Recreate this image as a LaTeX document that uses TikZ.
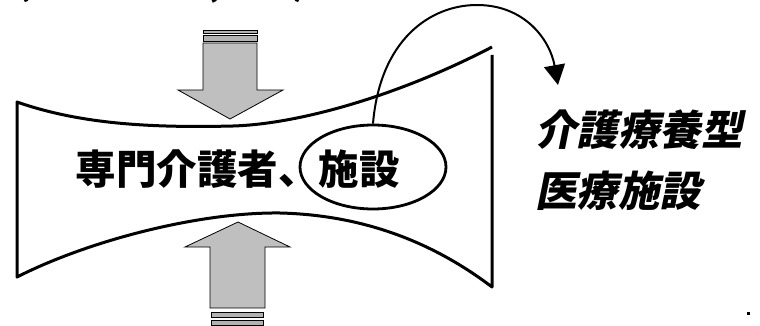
\documentclass[tikz,border=0pt]{standalone}
\usepackage{fontspec}
\newfontfamily\cjk{Noto Sans CJK JP}
\newfontfamily\cjksl{Noto Sans CJK JP}[FakeSlant=0.2]
\usetikzlibrary{shapes.geometric,arrows.meta}
\tikzset{
  bigarrow/.style={fill=gray!50, draw=black, line width=0.8pt},
  stripe/.style={fill=gray!60, draw=black, line width=0.8pt},
  banner/.style={line width=3pt, line join=round},
  maintext/.style={font=\cjk\bfseries\fontsize{40.5}{44}\selectfont, inner sep=0pt, anchor=base},
  sidetext/.style={font=\cjksl\bfseries\fontsize{41.5}{44}\selectfont, inner sep=0pt, anchor=base west},
  toptext/.style={font=\cjk\bfseries\fontsize{30}{34}\selectfont, inner sep=0pt, anchor=base west},
}
\begin{document}
\begin{tikzpicture}[x=1pt,y=-1pt]
\useasboundingbox (0,0) rectangle (760,326);
\begin{scope}
\clip (0,0) rectangle (760,326);
% clipped caption at the very top
\node[toptext] (cap) at (18,-3.5) {(介護保険白書,2003)};
% top arrow (pointing down)
\path[stripe] (203,30) rectangle (257,33);
\path[stripe] (203,35) rectangle (257,41);
\path[bigarrow] (203,43) -- (257,43) -- (257,90) -- (283,90) -- (230,119) -- (178,90) -- (203,90) -- cycle;
% bottom arrow (pointing up)
\path[bigarrow] (210,308) -- (265,308) -- (265,247) -- (290,247) -- (238,222) -- (185,247) -- (210,247) -- cycle;
\path[stripe] (211,312) rectangle (263,317);
\path[stripe] (211,320) rectangle (263,325);
\end{scope}
% banner shape
\draw[banner] (492,47) .. controls (400,95) and (300,124) .. (233,126)
  .. controls (150,128) and (80,124) .. (17,102) -- (17,277)
  .. controls (90,240) and (200,212) .. (280,213)
  .. controls (360,215) and (430,240) .. (492,287) -- (492,55);
% texts
\node[maintext] (main) at (237.5,184) {専門介護者、施設};
\node[draw, ellipse, line width=2.8pt, minimum width=146pt, minimum height=84pt, inner sep=0pt] (ell) at (373,167) {};
\coordinate (tip) at (558,85);
\draw[line width=2pt, -{Triangle[width=21pt,length=20pt]}] (ell.north)
  .. controls (380,40) and (430,5) .. (477,5)
  .. controls (525,5) and (550,40) .. (tip);
\node[sidetext] (t1) at (535,146) {介護療養型};
\node[sidetext] (t2) at (535,206) {医療施設};
\fill (747,312) rectangle (749.5,314.5);
\end{tikzpicture}
\end{document}
